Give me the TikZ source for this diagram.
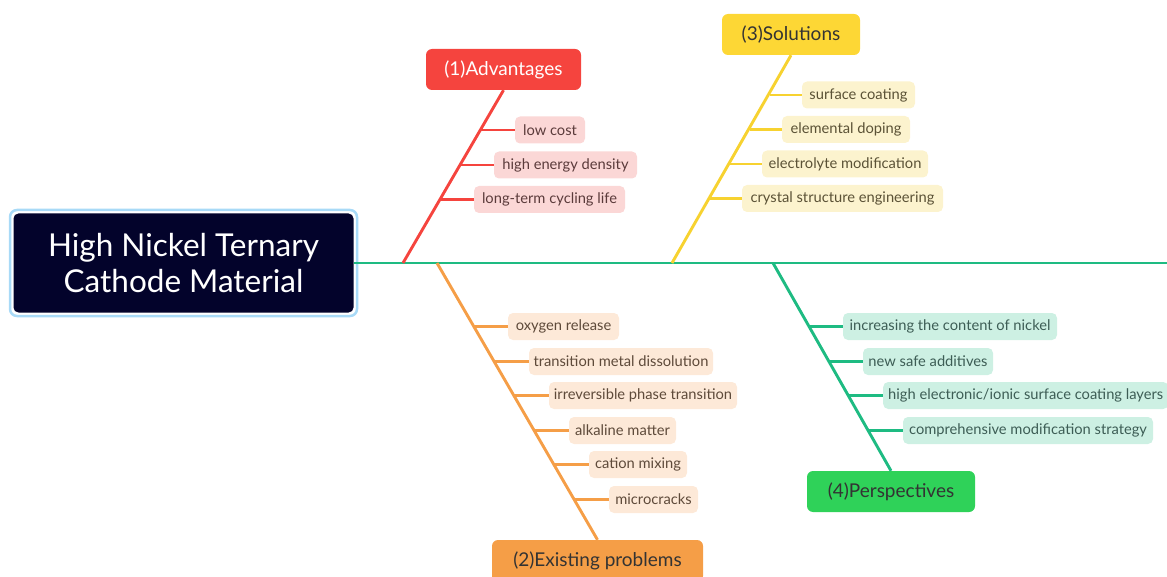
\documentclass[tikz,border=0pt]{standalone}
\usepackage{fontspec}
\setmainfont{Lato}
\definecolor{navy}{HTML}{03032B}
\definecolor{ringblue}{HTML}{A8DAF7}
\definecolor{spine}{HTML}{1EBB82}
\definecolor{advred}{HTML}{F5443E}
\definecolor{advfill}{HTML}{FBD7D6}
\definecolor{advtext}{HTML}{5B3B3B}
\definecolor{solyel}{HTML}{FDD735}
\definecolor{solline}{HTML}{F7D230}
\definecolor{solfill}{HTML}{FCF3CE}
\definecolor{soltext}{HTML}{5B5236}
\definecolor{proor}{HTML}{F59E47}
\definecolor{profill}{HTML}{FDE9D8}
\definecolor{protext}{HTML}{5E4A3A}
\definecolor{pergreen}{HTML}{2FD259}
\definecolor{perfill}{HTML}{CDF0E3}
\definecolor{pertext}{HTML}{3D5D55}
\begin{document}
\begin{tikzpicture}[x=1pt,y=-1pt,
  leaf/.style={rounded corners=5pt, inner sep=0pt, minimum height=27pt, font=\fontsize{14.7}{16}\selectfont},
  head/.style={rounded corners=6pt, inner sep=0pt, minimum height=41pt, font=\fontsize{19}{22}\selectfont},
  twig/.style={line width=2.2pt},
  bough/.style={line width=2.9pt}]
\useasboundingbox (0,0) rectangle (1167,577);
\clip (0,0) rectangle (1167,577);
% central topic
\draw[ringblue, line width=2.5pt, fill=white, rounded corners=7pt] (10,210) rectangle (357,316);
\node[fill=navy, rounded corners=5pt, minimum width=340pt, minimum height=99pt, inner sep=0pt,
  text=white, align=center, font=\fontsize{31.5}{36}\selectfont] (main) at (183.5,263)
  {High Nickel Ternary\\ Cathode Material};
\coordinate (spineend) at (1167,263);
\draw[spine, line width=2.8pt] (main.east) -- (spineend);
% (1) Advantages
\node[head, fill=advred, text=white, minimum width=155pt] (adv) at (503.5,69.5) {(1)Advantages};
\coordinate (advroot) at (403,263);
\draw[advred, bough] (advroot) -- (adv.south);
\node[leaf, fill=advfill, text=advtext, minimum width=70pt] (a1) at (550,130) {low cost};
\node[leaf, fill=advfill, text=advtext, minimum width=143pt] (a2) at (565.5,165) {high energy density};
\node[leaf, fill=advfill, text=advtext, minimum width=151pt] (a3) at (549.5,199.5) {long-term cycling life};
\coordinate (a1j) at (480,130);
\coordinate (a2j) at (460,165);
\coordinate (a3j) at (440,199.5);
\draw[advred, twig] (a1j) -- (a1.west);
\draw[advred, twig] (a2j) -- (a2.west);
\draw[advred, twig] (a3j) -- (a3.west);
% (3) Solutions
\node[head, fill=solyel, text=black!80, minimum width=138pt] (sol) at (791,34.5) {(3)Solutions};
\coordinate (solroot) at (672,263);
\draw[solline, bough] (solroot) -- (sol.south);
\node[leaf, fill=solfill, text=soltext, minimum width=113pt] (s1) at (858.5,95) {surface coating};
\node[leaf, fill=solfill, text=soltext, minimum width=128pt] (s2) at (846,129.5) {elemental doping};
\node[leaf, fill=solfill, text=soltext, minimum width=166pt] (s3) at (845,164) {electrolyte modification};
\node[leaf, fill=solfill, text=soltext, minimum width=201pt] (s4) at (842.5,198.5) {crystal structure engineering};
\coordinate (s1j) at (770,95);
\coordinate (s2j) at (750,129.5);
\coordinate (s3j) at (730,164);
\coordinate (s4j) at (710,198.5);
\draw[solline, twig] (s1j) -- (s1.west);
\draw[solline, twig] (s2j) -- (s2.west);
\draw[solline, twig] (s3j) -- (s3.west);
\draw[solline, twig] (s4j) -- (s4.west);
% (2) Existing problems
\node[head, fill=proor, text=black!80, minimum width=211pt, minimum height=42pt] (pro) at (597.5,561) {(2)Existing problems};
\coordinate (proroot) at (437,263);
\draw[proor, bough] (proroot) -- (pro.north);
\node[leaf, fill=profill, text=protext, minimum width=111pt] (p1) at (563.5,326.5) {oxygen release};
\node[leaf, fill=profill, text=protext, minimum width=184pt] (p2) at (621,361.5) {transition metal dissolution};
\node[leaf, fill=profill, text=protext, minimum width=188pt] (p3) at (643,395.5) {irreversible phase transition};
\node[leaf, fill=profill, text=protext, minimum width=107pt] (p4) at (622.5,430.5) {alkaline matter};
\node[leaf, fill=profill, text=protext, minimum width=98pt] (p5) at (638,464.5) {cation mixing};
\node[leaf, fill=profill, text=protext, minimum width=89pt] (p6) at (653.5,499.5) {microcracks};
\coordinate (p1j) at (474,326.5);
\coordinate (p2j) at (494,361.5);
\coordinate (p3j) at (514,395.5);
\coordinate (p4j) at (534,430.5);
\coordinate (p5j) at (554,464.5);
\coordinate (p6j) at (574,499.5);
\foreach \i in {1,...,6} {\draw[proor, twig] (p\i j) -- (p\i.west);}
% (4) Perspectives
\node[head, fill=pergreen, text=black!80, minimum width=168pt] (per) at (891,491.5) {(4)Perspectives};
\coordinate (perroot) at (773,263);
\draw[spine, bough] (perroot) -- (per.north);
\node[leaf, fill=perfill, text=pertext, minimum width=214pt] (q1) at (950,326.5) {increasing the content of nickel};
\node[leaf, fill=perfill, text=pertext, minimum width=130pt] (q2) at (928,361.5) {new safe additives};
\node[leaf, fill=perfill, text=pertext, inner xsep=5pt, anchor=west] (q3) at (883,395.5) {high electronic/ionic surface coating layers};
\node[leaf, fill=perfill, text=pertext, minimum width=250pt] (q4) at (1028,430.5) {comprehensive modification strategy};
\coordinate (q1j) at (810,326.5);
\coordinate (q2j) at (829,361.5);
\coordinate (q3j) at (849,395.5);
\coordinate (q4j) at (868,430.5);
\foreach \i in {1,...,4} {\draw[spine, twig] (q\i j) -- (q\i.west);}
\end{tikzpicture}
\end{document}
